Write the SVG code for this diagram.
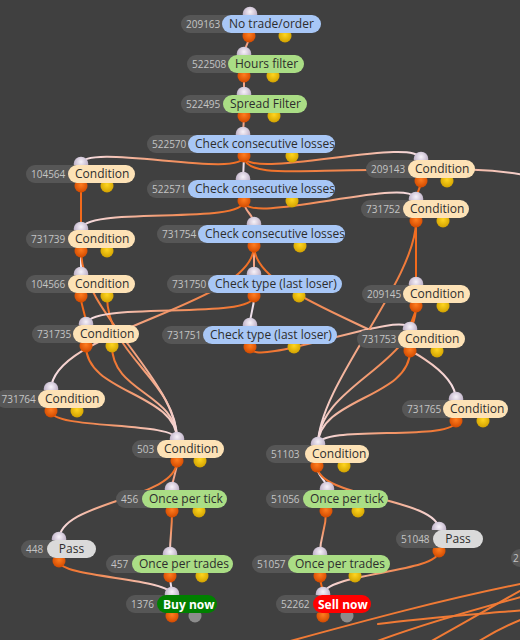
<svg xmlns="http://www.w3.org/2000/svg" xmlns:xlink="http://www.w3.org/1999/xlink" width="520" height="640" viewBox="0 0 520 640">
<defs>
<style>
.c{fill:none;stroke-width:2;stroke-linecap:round}
.o{stroke:#f26a1c}.s{stroke:#f3a487}.w{stroke:#efe0ea}.b{stroke:#f07a35}
.id{fill:#565656}
.tid{font-family:"Open Sans","Noto Sans",sans-serif;font-size:10px;fill:#c4c4c4}
.tl{font-family:"Open Sans","Noto Sans",sans-serif;font-size:12px;fill:#2d2d2d}
.tw{font-family:"Open Sans","Noto Sans",sans-serif;font-size:12px;font-weight:bold;fill:#ffffff}
.blue{fill:#a8c7f6}.green{fill:#aadd85}.peach{fill:#fde2b6}.gray{fill:#dadada}.buy{fill:#008000}.sell{fill:#ff0000}
.pi{fill:url(#rin)}.po{fill:url(#ror)}.py{fill:url(#ryl)}.pg{fill:#8c8c8c}
</style>
<radialGradient id="rin" cx="50%" cy="35%" r="60%"><stop offset="0" stop-color="#f7f2f9"/><stop offset="1" stop-color="#b6a7c0"/></radialGradient>
<radialGradient id="ror" cx="50%" cy="40%" r="60%"><stop offset="0" stop-color="#ff7d1f"/><stop offset="1" stop-color="#d24a00"/></radialGradient>
<radialGradient id="ryl" cx="50%" cy="40%" r="60%"><stop offset="0" stop-color="#ffd51f"/><stop offset="1" stop-color="#d2a200"/></radialGradient>
<linearGradient id="go"><stop offset="0" stop-color="#f06a1c"/><stop offset="0.5" stop-color="#f39a70"/><stop offset="1" stop-color="#f6e2ea"/></linearGradient>
<linearGradient id="g5" xlink:href="#go" gradientUnits="userSpaceOnUse" x1="244" y1="156" x2="81" y2="165"/>
<linearGradient id="g6" xlink:href="#go" gradientUnits="userSpaceOnUse" x1="244" y1="156" x2="421" y2="160"/>
<linearGradient id="g7" xlink:href="#go" gradientUnits="userSpaceOnUse" x1="244" y1="156" x2="560" y2="178"/>
<linearGradient id="g8" xlink:href="#go" gradientUnits="userSpaceOnUse" x1="244" y1="201" x2="81" y2="230"/>
<linearGradient id="g9" xlink:href="#go" gradientUnits="userSpaceOnUse" x1="244" y1="201" x2="416" y2="200"/>
<linearGradient id="g14" xlink:href="#go" gradientUnits="userSpaceOnUse" x1="81" y1="251" x2="177" y2="440"/>
<linearGradient id="g16" xlink:href="#go" gradientUnits="userSpaceOnUse" x1="107" y1="296" x2="177" y2="440"/>
<linearGradient id="g17" xlink:href="#go" gradientUnits="userSpaceOnUse" x1="86" y1="346" x2="177" y2="440"/>
<linearGradient id="g18" xlink:href="#go" gradientUnits="userSpaceOnUse" x1="112" y1="346" x2="177" y2="440"/>
<linearGradient id="g19" xlink:href="#go" gradientUnits="userSpaceOnUse" x1="51" y1="411" x2="177" y2="440"/>
<linearGradient id="g21" xlink:href="#go" gradientUnits="userSpaceOnUse" x1="254" y1="246" x2="51" y2="390"/>
<linearGradient id="g22" xlink:href="#go" gradientUnits="userSpaceOnUse" x1="254" y1="246" x2="456" y2="400"/>
<linearGradient id="g24" xlink:href="#go" gradientUnits="userSpaceOnUse" x1="254" y1="296" x2="86" y2="325"/>
<linearGradient id="g25" xlink:href="#go" gradientUnits="userSpaceOnUse" x1="250" y1="347" x2="410" y2="330"/>
<linearGradient id="g28" xlink:href="#go" gradientUnits="userSpaceOnUse" x1="416" y1="221" x2="318" y2="445"/>
<linearGradient id="g29" xlink:href="#go" gradientUnits="userSpaceOnUse" x1="416" y1="306" x2="318" y2="445"/>
<linearGradient id="g30" xlink:href="#go" gradientUnits="userSpaceOnUse" x1="410" y1="351" x2="318" y2="445"/>
<linearGradient id="g31" xlink:href="#go" gradientUnits="userSpaceOnUse" x1="456" y1="421" x2="318" y2="445"/>
<linearGradient id="g33" xlink:href="#go" gradientUnits="userSpaceOnUse" x1="177" y1="461" x2="59" y2="540"/>
<linearGradient id="g34" xlink:href="#go" gradientUnits="userSpaceOnUse" x1="172" y1="511" x2="170" y2="555"/>
<linearGradient id="g35" xlink:href="#go" gradientUnits="userSpaceOnUse" x1="59" y1="561" x2="172" y2="595"/>
<linearGradient id="g38" xlink:href="#go" gradientUnits="userSpaceOnUse" x1="317" y1="466" x2="439" y2="530"/>
<linearGradient id="g39" xlink:href="#go" gradientUnits="userSpaceOnUse" x1="326" y1="511" x2="320" y2="555"/>
<linearGradient id="g40" xlink:href="#go" gradientUnits="userSpaceOnUse" x1="439" y1="551" x2="323" y2="595"/>
</defs>
<rect width="520" height="640" fill="#404040"/>
<g id="connectors">
<path class="c s" d="M249,36 C249,46 244,45 244,55"/>
<path class="c s" d="M244,76 L244,95"/>
<path class="c s" d="M244,116 L243,135"/>
<path class="c w" d="M244,156 L243,180"/>
<path class="c" stroke="url(#g5)" d="M244,156 C244,180 81,141 81,165"/>
<path class="c" stroke="url(#g6)" d="M244,156 C244,182 421,134 421,160"/>
<path class="c" stroke="url(#g7)" d="M244,156 C244,178 300,170 370,170 S480,167 525,175"/>
<path class="c" stroke="url(#g8)" d="M244,201 C244,226 81,205 81,230"/>
<path class="c" stroke="url(#g9)" d="M244,201 C244,227 416,174 416,200"/>
<path class="c s" d="M244,201 C244,213 254,213 254,225"/>
<path class="c o" d="M421,181 C421,190 416,191 416,200"/>
<path class="c o" d="M81,186 L81,230"/>
<path class="c w" d="M81,251 L81,275"/>
<path class="c" stroke="url(#g14)" d="M81,251 C81,311 177,380 177,440"/>
<path class="c o" d="M81,296 C81,310 86,311 86,325"/>
<path class="c" stroke="url(#g16)" d="M107,296 C107,356 177,380 177,440"/>
<path class="c" stroke="url(#g17)" d="M86,346 C86,393 177,393 177,440"/>
<path class="c" stroke="url(#g18)" d="M112,346 C112,393 177,393 177,440"/>
<path class="c" stroke="url(#g19)" d="M51,411 C51,430 177,421 177,440"/>
<path class="c s" d="M254,246 L254,275"/>
<path class="c" stroke="url(#g21)" d="M254,246 C254,306 51,330 51,390"/>
<path class="c" stroke="url(#g22)" d="M254,246 C254,306 456,340 456,400"/>
<path class="c w" d="M254,296 C254,311 250,311 250,326"/>
<path class="c" stroke="url(#g24)" d="M254,296 C254,321 86,300 86,325"/>
<path class="c" stroke="url(#g25)" d="M250,347 C250,371 410,306 410,330"/>
<path class="c o" d="M416,306 C416,318 410,318 410,330"/>
<path class="c o" d="M416,221 L416,285"/>
<path class="c" stroke="url(#g28)" d="M416,221 C416,281 318,385 318,445"/>
<path class="c" stroke="url(#g29)" d="M416,306 C416,366 318,385 318,445"/>
<path class="c" stroke="url(#g30)" d="M410,351 C410,398 318,398 318,445"/>
<path class="c" stroke="url(#g31)" d="M456,421 C456,442 318,424 318,445"/>
<path class="c s" d="M177,461 C177,475 172,476 172,490"/>
<path class="c" stroke="url(#g33)" d="M177,461 C177,500 59,501 59,540"/>
<path class="c" stroke="url(#g34)" d="M172,511 C172,533 170,533 170,555"/>
<path class="c" stroke="url(#g35)" d="M59,561 C59,578 172,578 172,595"/>
<path class="c w" d="M170,576 C170,585 172,586 172,595"/>
<path class="c w" d="M317,466 C317,478 327,478 327,490"/>
<path class="c" stroke="url(#g38)" d="M317,466 C317,498 439,498 439,530"/>
<path class="c" stroke="url(#g39)" d="M326,511 C326,533 320,533 320,555"/>
<path class="c" stroke="url(#g40)" d="M439,551 C439,573 323,573 323,595"/>
<path class="c o" d="M320,576 C320,585 323,586 323,595"/>
<path class="c b" d="M525,583 C440,600 360,622 283,643"/>
<path class="c b" d="M525,596 C480,608 420,625 372,643"/>
<path class="c b" d="M525,588 C495,605 460,625 428,643"/>
<path class="c b" d="M525,610 C480,614 420,618 378,624"/>
<path class="c b" d="M525,618 C505,626 490,634 476,643"/>
</g>
<g id="n209163"><circle class="pi" cx="250" cy="14" r="7.3"/><circle class="po" cx="249" cy="36" r="6.5"/><circle class="py" cx="285" cy="36" r="6.5"/><rect class="id" x="181" y="15" width="55" height="18" rx="9"/><text class="tid" x="186" y="27.5">209163</text><rect class="blue" x="222" y="15" width="99" height="18" rx="9"/><text class="tl" x="229" y="28.3">No trade/order</text></g>
<g id="n522508"><circle class="pi" cx="244" cy="54" r="7.3"/><circle class="po" cx="244" cy="76" r="6.5"/><circle class="py" cx="273" cy="76" r="6.5"/><rect class="id" x="187" y="55" width="55" height="18" rx="9"/><text class="tid" x="192" y="67.5">522508</text><rect class="green" x="228" y="55" width="76" height="18" rx="9"/><text class="tl" x="235" y="68.3">Hours filter</text></g>
<g id="n522495"><circle class="pi" cx="244" cy="94" r="7.3"/><circle class="po" cx="244" cy="116" r="6.5"/><circle class="py" cx="274" cy="116" r="6.5"/><rect class="id" x="181" y="95" width="56" height="18" rx="9"/><text class="tid" x="186" y="107.5">522495</text><rect class="green" x="223" y="95" width="84" height="18" rx="9"/><text class="tl" x="230" y="108.3">Spread Filter</text></g>
<g id="n522570"><circle class="pi" cx="243" cy="134" r="7.3"/><circle class="po" cx="244" cy="156" r="6.5"/><circle class="py" cx="292" cy="156" r="6.5"/><rect class="id" x="147" y="135" width="55" height="18" rx="9"/><text class="tid" x="152" y="147.5">522570</text><rect class="blue" x="188" y="135" width="147" height="18" rx="9"/><text class="tl" x="195" y="148.3">Check consecutive losses</text></g>
<g id="n522571"><circle class="pi" cx="243" cy="179" r="7.3"/><circle class="po" cx="244" cy="201" r="6.5"/><circle class="py" cx="292" cy="201" r="6.5"/><rect class="id" x="147" y="180" width="55" height="18" rx="9"/><text class="tid" x="152" y="192.5">522571</text><rect class="blue" x="188" y="180" width="147" height="18" rx="9"/><text class="tl" x="195" y="193.3">Check consecutive losses</text></g>
<g id="n731754"><circle class="pi" cx="254" cy="224" r="7.3"/><circle class="po" cx="254" cy="246" r="6.5"/><circle class="py" cx="300" cy="246" r="6.5"/><rect class="id" x="157" y="225" width="55" height="18" rx="9"/><text class="tid" x="162" y="237.5">731754</text><rect class="blue" x="198" y="225" width="147" height="18" rx="9"/><text class="tl" x="205" y="238.3">Check consecutive losses</text></g>
<g id="n731750"><circle class="pi" cx="254" cy="274" r="7.3"/><circle class="po" cx="254" cy="296" r="6.5"/><circle class="py" cx="299" cy="296" r="6.5"/><rect class="id" x="167" y="275" width="55" height="18" rx="9"/><text class="tid" x="172" y="287.5">731750</text><rect class="blue" x="208" y="275" width="134" height="18" rx="9"/><text class="tl" x="215" y="288.3">Check type (last loser)</text></g>
<g id="n731751"><circle class="pi" cx="250" cy="325" r="7.3"/><circle class="po" cx="250" cy="347" r="6.5"/><circle class="py" cx="294" cy="347" r="6.5"/><rect class="id" x="162" y="326" width="55" height="18" rx="9"/><text class="tid" x="167" y="338.5">731751</text><rect class="blue" x="203" y="326" width="134" height="18" rx="9"/><text class="tl" x="210" y="339.3">Check type (last loser)</text></g>
<g id="n209143"><circle class="pi" cx="421" cy="159" r="7.3"/><circle class="po" cx="421" cy="181" r="6.5"/><circle class="py" cx="447" cy="181" r="6.5"/><rect class="id" x="366" y="160" width="56" height="18" rx="9"/><text class="tid" x="371" y="172.5">209143</text><rect class="peach" x="408" y="160" width="67" height="18" rx="9"/><text class="tl" x="415" y="173.3">Condition</text></g>
<g id="n731752"><circle class="pi" cx="416" cy="199" r="7.3"/><circle class="po" cx="416" cy="221" r="6.5"/><circle class="py" cx="443" cy="221" r="6.5"/><rect class="id" x="361" y="200" width="56" height="18" rx="9"/><text class="tid" x="366" y="212.5">731752</text><rect class="peach" x="403" y="200" width="66" height="18" rx="9"/><text class="tl" x="410" y="213.3">Condition</text></g>
<g id="n209145"><circle class="pi" cx="416" cy="284" r="7.3"/><circle class="po" cx="416" cy="306" r="6.5"/><circle class="py" cx="443" cy="306" r="6.5"/><rect class="id" x="362" y="285" width="55" height="18" rx="9"/><text class="tid" x="367" y="297.5">209145</text><rect class="peach" x="403" y="285" width="67" height="18" rx="9"/><text class="tl" x="410" y="298.3">Condition</text></g>
<g id="n731753"><circle class="pi" cx="410" cy="329" r="7.3"/><circle class="po" cx="410" cy="351" r="6.5"/><circle class="py" cx="437" cy="351" r="6.5"/><rect class="id" x="357" y="330" width="55" height="18" rx="9"/><text class="tid" x="362" y="342.5">731753</text><rect class="peach" x="398" y="330" width="67" height="18" rx="9"/><text class="tl" x="405" y="343.3">Condition</text></g>
<g id="n731765"><circle class="pi" cx="456" cy="399" r="7.3"/><circle class="po" cx="456" cy="421" r="6.5"/><circle class="py" cx="483" cy="421" r="6.5"/><rect class="id" x="402" y="400" width="55" height="18" rx="9"/><text class="tid" x="407" y="412.5">731765</text><rect class="peach" x="443" y="400" width="65" height="18" rx="9"/><text class="tl" x="450" y="413.3">Condition</text></g>
<g id="n104564"><circle class="pi" cx="81" cy="164" r="7.3"/><circle class="po" cx="81" cy="186" r="6.5"/><circle class="py" cx="107" cy="186" r="6.5"/><rect class="id" x="26" y="165" width="56" height="18" rx="9"/><text class="tid" x="31" y="177.5">104564</text><rect class="peach" x="68" y="165" width="67" height="18" rx="9"/><text class="tl" x="75" y="178.3">Condition</text></g>
<g id="n731739"><circle class="pi" cx="81" cy="229" r="7.3"/><circle class="po" cx="81" cy="251" r="6.5"/><circle class="py" cx="107" cy="251" r="6.5"/><rect class="id" x="26" y="230" width="56" height="18" rx="9"/><text class="tid" x="31" y="242.5">731739</text><rect class="peach" x="68" y="230" width="67" height="18" rx="9"/><text class="tl" x="75" y="243.3">Condition</text></g>
<g id="n104566"><circle class="pi" cx="81" cy="274" r="7.3"/><circle class="po" cx="81" cy="296" r="6.5"/><circle class="py" cx="107" cy="296" r="6.5"/><rect class="id" x="26" y="275" width="56" height="18" rx="9"/><text class="tid" x="31" y="287.5">104566</text><rect class="peach" x="68" y="275" width="67" height="18" rx="9"/><text class="tl" x="75" y="288.3">Condition</text></g>
<g id="n731735"><circle class="pi" cx="86" cy="324" r="7.3"/><circle class="po" cx="86" cy="346" r="6.5"/><circle class="py" cx="112" cy="346" r="6.5"/><rect class="id" x="32" y="325" width="55" height="18" rx="9"/><text class="tid" x="37" y="337.5">731735</text><rect class="peach" x="73" y="325" width="66" height="18" rx="9"/><text class="tl" x="80" y="338.3">Condition</text></g>
<g id="n731764"><circle class="pi" cx="51" cy="389" r="7.3"/><circle class="po" cx="51" cy="411" r="6.5"/><circle class="py" cx="77" cy="411" r="6.5"/><rect class="id" x="-4" y="390" width="56" height="18" rx="9"/><text class="tid" x="1.5" y="402.5">731764</text><rect class="peach" x="38" y="390" width="67" height="18" rx="9"/><text class="tl" x="45" y="403.3">Condition</text></g>
<g id="n503"><circle class="pi" cx="177" cy="439" r="7.3"/><circle class="po" cx="177" cy="461" r="6.5"/><circle class="py" cx="200" cy="461" r="6.5"/><rect class="id" x="132" y="440" width="40" height="18" rx="9"/><text class="tid" x="137" y="452.5">503</text><rect class="peach" x="157" y="440" width="67" height="18" rx="9"/><text class="tl" x="164" y="453.3">Condition</text></g>
<g id="n51103"><circle class="pi" cx="318" cy="444" r="7.3"/><circle class="po" cx="317" cy="466" r="6.5"/><circle class="py" cx="344" cy="466" r="6.5"/><rect class="id" x="266" y="445" width="52" height="18" rx="9"/><text class="tid" x="271" y="457.5">51103</text><rect class="peach" x="305" y="445" width="64" height="18" rx="9"/><text class="tl" x="312" y="458.3">Condition</text></g>
<g id="n456"><circle class="pi" cx="172" cy="489" r="7.3"/><circle class="po" cx="172" cy="511" r="6.5"/><circle class="py" cx="199" cy="511" r="6.5"/><rect class="id" x="116" y="490" width="40" height="18" rx="9"/><text class="tid" x="121" y="502.5">456</text><rect class="green" x="142" y="490" width="85" height="18" rx="9"/><text class="tl" x="149" y="503.3">Once per tick</text></g>
<g id="n51056"><circle class="pi" cx="327" cy="489" r="7.3"/><circle class="po" cx="326" cy="511" r="6.5"/><circle class="py" cx="358" cy="511" r="6.5"/><rect class="id" x="266" y="490" width="50" height="18" rx="9"/><text class="tid" x="271" y="502.5">51056</text><rect class="green" x="303" y="490" width="85" height="18" rx="9"/><text class="tl" x="310" y="503.3">Once per tick</text></g>
<g id="n448"><circle class="pi" cx="59" cy="539" r="7.3"/><circle class="po" cx="59" cy="561" r="6.5"/><rect class="id" x="21" y="540" width="40" height="18" rx="9"/><text class="tid" x="26" y="552.5">448</text><rect class="gray" x="47" y="540" width="49" height="18" rx="9"/><text class="tl" x="71.5" y="553.3" text-anchor="middle">Pass</text></g>
<g id="n51048"><circle class="pi" cx="439" cy="529" r="7.3"/><circle class="po" cx="439" cy="551" r="6.5"/><rect class="id" x="396" y="530" width="50" height="18" rx="9"/><text class="tid" x="401" y="542.5">51048</text><rect class="gray" x="433" y="530" width="50" height="18" rx="9"/><text class="tl" x="458" y="543.3" text-anchor="middle">Pass</text></g>
<g id="n457"><circle class="pi" cx="170" cy="554" r="7.3"/><circle class="po" cx="170" cy="576" r="6.5"/><circle class="py" cx="202" cy="576" r="6.5"/><rect class="id" x="106" y="555" width="40" height="18" rx="9"/><text class="tid" x="111" y="567.5">457</text><rect class="green" x="132" y="555" width="101" height="18" rx="9"/><text class="tl" x="139" y="568.3">Once per trades</text></g>
<g id="n51057"><circle class="pi" cx="320" cy="554" r="7.3"/><circle class="po" cx="320" cy="576" r="6.5"/><circle class="py" cx="355" cy="576" r="6.5"/><rect class="id" x="252" y="555" width="50" height="18" rx="9"/><text class="tid" x="257" y="567.5">51057</text><rect class="green" x="288" y="555" width="102" height="18" rx="9"/><text class="tl" x="295" y="568.3">Once per trades</text></g>
<g id="n1376"><circle class="pi" cx="172" cy="594" r="7.3"/><circle class="po" cx="172" cy="616" r="6.5"/><circle class="pg" cx="195" cy="616" r="6.5"/><rect class="id" x="126" y="595" width="45" height="18" rx="9"/><text class="tid" x="131" y="607.5">1376</text><rect class="buy" x="157" y="595" width="60" height="18" rx="9"/><text class="tw" x="163" y="608.5">Buy now</text></g>
<g id="n52262"><circle class="pi" cx="323" cy="594" r="7.3"/><circle class="po" cx="323" cy="616" r="6.5"/><circle class="pg" cx="347" cy="616" r="6.5"/><rect class="id" x="276" y="595" width="50" height="18" rx="9"/><text class="tid" x="281" y="607.5">52262</text><rect class="sell" x="313" y="595" width="58" height="18" rx="9"/><text class="tw" x="318" y="608.5">Sell now</text></g>
<g id="n2"><rect class="id" x="511" y="549" width="50" height="18" rx="9"/><text class="tid" x="513" y="561.5">2</text></g>
</svg>
